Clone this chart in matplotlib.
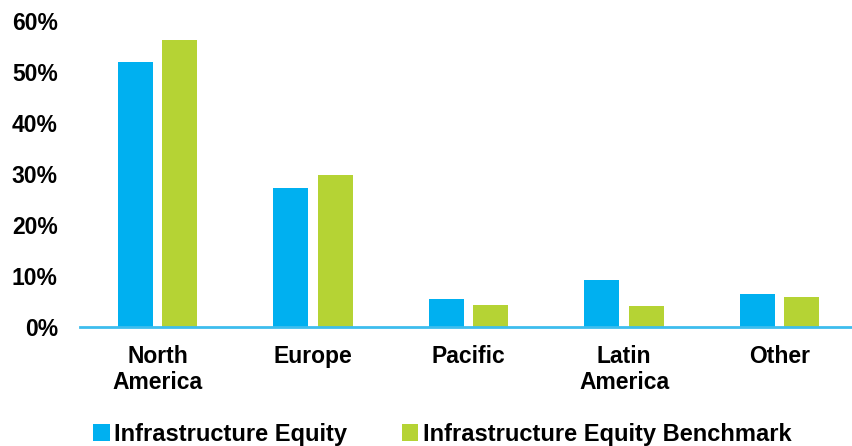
import matplotlib
matplotlib.use("Agg")
import matplotlib.pyplot as plt
from matplotlib.patches import Patch
import numpy as np

# Regional allocation (%)
regions = ["North\nAmerica", "Europe", "Pacific", "Latin\nAmerica", "Other"]
infra_equity = [52.0, 27.1, 5.4, 9.2, 6.4]
infra_benchmark = [56.3, 29.7, 4.2, 4.1, 5.8]
y_ticks = [0, 10, 20, 30, 40, 50, 60]
y_tick_labels = ["0%", "10%", "20%", "30%", "40%", "50%", "60%"]
series_names = ["Infrastructure Equity", "Infrastructure Equity Benchmark"]

BLUE = "#00B0F0"
GREEN = "#B5D334"
FONT = "Liberation Sans"

W, H = 852, 446
fig = plt.figure(figsize=(W / 100, H / 100), dpi=100)
ax = fig.add_axes([80 / W, (H - 326.7) / H, 1 - 80 / W, (326.7 - 20.7) / H])

x = np.arange(len(regions))
bw = 0.225
off = 0.143
ax.bar(x - off, infra_equity, width=bw, color=BLUE, zorder=2)
ax.bar(x + off, infra_benchmark, width=bw, color=GREEN, zorder=2)

ax.set_xlim(-0.5, 4.466)
ax.set_ylim(0, 60)
ax.set_yticks(y_ticks)
ax.set_yticklabels(y_tick_labels)
ax.set_xticks(x)
ax.set_xticklabels(regions, linespacing=1.15)

for s in ["top", "right", "left"]:
    ax.spines[s].set_visible(False)
ax.spines["bottom"].set_color("#3DBDEE")
ax.spines["bottom"].set_linewidth(2)
ax.spines["bottom"].set_zorder(3)

ax.tick_params(axis="both", length=0)
ax.tick_params(axis="y", pad=16)
ax.tick_params(axis="x", pad=13.5)
for lbl in ax.get_yticklabels() + ax.get_xticklabels():
    lbl.set_fontfamily(FONT)
    lbl.set_fontweight("bold")
    lbl.set_fontsize(16.5)
    lbl.set_color("black")

handles = [Patch(facecolor=BLUE), Patch(facecolor=GREEN)]
fig.legend(handles, series_names, loc="lower left",
           bbox_to_anchor=(93 / W, 0 / H), ncol=2, frameon=False,
           handlelength=0.7, handleheight=0.7, handletextpad=0.2,
           columnspacing=2.3, borderaxespad=0, borderpad=0,
           prop={"family": FONT, "weight": "bold", "size": 17})

fig.savefig("out.png", dpi=100)
